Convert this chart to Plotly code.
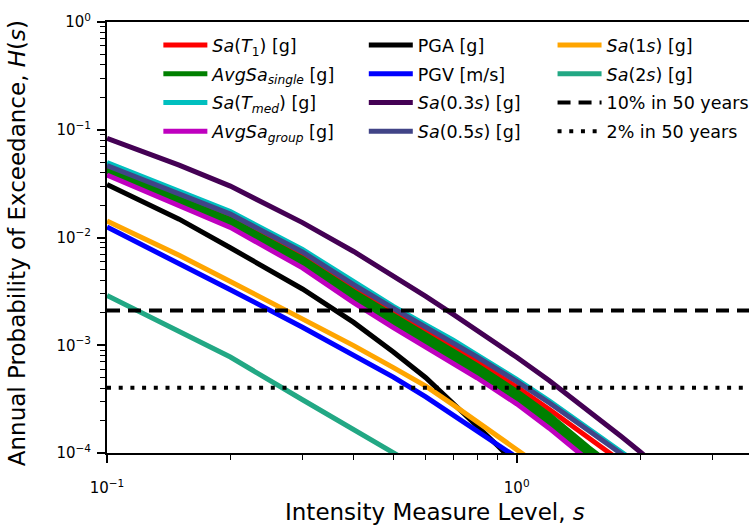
import plotly.graph_objects as go

# Intensity measure levels (s) at which the hazard curves are evaluated
im_levels = [0.1, 0.15, 0.2, 0.3, 0.4, 0.5, 0.6, 0.7, 0.8, 1.0, 1.2, 1.5, 1.8, 2.0]
im_pga = [0.1, 0.15, 0.2, 0.3, 0.4, 0.5, 0.6, 0.7, 0.8, 0.9, 1.0]
im_long = [0.1, 0.15, 0.2, 0.3, 0.4, 0.5, 0.6, 0.7, 0.8, 0.9, 1.0, 1.1]
im_sa2 = [0.1, 0.15, 0.2, 0.3, 0.4, 0.5, 0.55]
im_sa03 = [0.1, 0.15, 0.2, 0.3, 0.4, 0.5, 0.6, 0.7, 0.8, 1.0, 1.2, 1.5, 1.8, 2.0, 2.2]

# Annual probability of exceedance H(s)
h_sa_t1 = [0.0436, 0.0239, 0.0153, 0.00674, 0.00335, 0.00202, 0.001358, 0.00097,
           0.000702, 0.000411, 0.000255, 0.000137, 8.32e-05, 6.23e-05]
# AvgSa (single-building periods): band of curves
h_avgsa_single_a = [0.0427, 0.0229, 0.0147, 0.00639, 0.00314, 0.00189, 0.001261, 0.000899,
                    0.000651, 0.000373, 0.000227, 0.000112, 6.58e-05, 4.83e-05]
h_avgsa_single_b = [0.0418, 0.0222, 0.0141, 0.0061, 0.00294, 0.00175, 0.001164, 0.000826,
                    0.000599, 0.000344, 0.000207, 0.0001028, 5.94e-05, 4.37e-05]
h_avgsa_single_c = [0.0409, 0.0215, 0.0135, 0.0058, 0.00276, 0.00162, 0.001067, 0.000758,
                    0.000552, 0.000316, 0.000188, 9.34e-05, 5.36e-05, 3.96e-05]
h_sa_tmed = [0.0496, 0.0272, 0.0174, 0.00774, 0.00385, 0.00229, 0.001542, 0.001114,
             0.000815, 0.000483, 0.000305, 0.000168, 0.0001025, 7.7e-05]
h_avgsa_group = [0.038, 0.0199, 0.0124, 0.00522, 0.00249, 0.00146, 0.000966, 0.000686,
                 0.000499, 0.000286, 0.00017, 8.48e-05, 4.86e-05, 3.57e-05]
h_pga = [0.031, 0.0148, 0.00803, 0.00333, 0.00163, 0.000867, 0.0005, 0.000293,
         0.000178, 0.000116, 7.82e-05]
h_pgv = [0.0125, 0.0058, 0.00328, 0.00147, 0.000818, 0.000506, 0.000332, 0.000225,
         0.00016, 0.000119, 9.12e-05, 7.15e-05]
h_sa03 = [0.0831, 0.047, 0.03, 0.01374, 0.00742, 0.004444, 0.002846, 0.001934, 0.00138,
          0.000773, 0.00047, 0.000247, 0.000142, 0.0001026, 7.58e-05]
h_sa05 = [0.0465, 0.0255, 0.0165, 0.00734, 0.00365, 0.0022, 0.001484, 0.001066,
          0.00078, 0.000462, 0.000293, 0.000161, 9.87e-05, 7.39e-05]
h_sa1 = [0.0142, 0.00684, 0.00391, 0.00177, 0.000992, 0.00062, 0.000418, 0.00028,
         0.000195, 0.000143, 0.000108, 8.32e-05]
h_sa2 = [0.0029, 0.00134, 0.000777, 0.000312, 0.000164, 9.96e-05, 8.13e-05]

# Design levels: 10% and 2% probability of exceedance in 50 years
h_10in50 = 0.002107
h_2in50 = 0.000404
x_span = [0.1, 4.0]

FONT = "DejaVu Sans"
LW = 5

fig = go.Figure()


def curve(x, y, name, color, legend, show=True, group=None):
    fig.add_trace(go.Scatter(
        x=x, y=y, mode="lines", name=name, legend=legend,
        legendgroup=group or name, showlegend=show,
        line=dict(color=color, width=LW),
    ))


single = "<i>AvgSa<sub>single</sub></i> [g]"
curve(im_levels, h_sa_t1, "<i>Sa</i>(<i>T</i><sub>1</sub>) [g]", "#ff0000", "legend")
curve(im_levels, h_avgsa_single_a, single, "#008000", "legend", group="single")
curve(im_levels, h_avgsa_single_b, single, "#008000", "legend", show=False, group="single")
curve(im_levels, h_avgsa_single_c, single, "#008000", "legend", show=False, group="single")
curve(im_levels, h_sa_tmed, "<i>Sa</i>(<i>T<sub>med</sub></i>) [g]", "#00bfbf", "legend")
curve(im_levels, h_avgsa_group, "<i>AvgSa<sub>group</sub></i> [g]", "#bf00bf", "legend")
curve(im_pga, h_pga, "PGA [g]", "#000000", "legend2")
curve(im_long, h_pgv, "PGV [m/s]", "#0000ff", "legend2")
curve(im_sa03, h_sa03, "<i>Sa</i>(0.3<i>s</i>) [g]", "#440154", "legend2")
curve(im_levels, h_sa05, "<i>Sa</i>(0.5<i>s</i>) [g]", "#414487", "legend2")
curve(im_long, h_sa1, "<i>Sa</i>(1<i>s</i>) [g]", "#ffa500", "legend3")
curve(im_sa2, h_sa2, "<i>Sa</i>(2<i>s</i>) [g]", "#22a884", "legend3")

fig.add_trace(go.Scatter(
    x=x_span, y=[h_10in50, h_10in50], mode="lines", name="10% in 50 years",
    legend="legend3", legendgroup="p10",
    line=dict(color="black", width=4, dash="13px,8px"),
))
fig.add_trace(go.Scatter(
    x=x_span, y=[h_2in50, h_2in50], mode="lines", name="2% in 50 years",
    legend="legend3", legendgroup="p2",
    line=dict(color="black", width=4, dash="4px,7.7px"),
))

y_major = [1e-4, 1e-3, 1e-2, 1e-1, 1]
y_text = ["10<sup>\u22124</sup>", "10<sup>\u22123</sup>", "10<sup>\u22122</sup>",
          "10<sup>\u22121</sup>", "10<sup>0</sup>"]
y_minor = [m * 10 ** e for e in range(-4, 0) for m in range(2, 10)]
x_major = [0.1, 1]
x_text = ["10<sup>\u22121</sup>", "10<sup>0</sup>"]
x_minor = [m * 10 ** e for e in (-1, 0) for m in range(2, 10)]

legend_common = dict(
    bgcolor="rgba(0,0,0,0)", borderwidth=0, yanchor="top", xanchor="left",
    traceorder="grouped", tracegroupgap=3, itemwidth=44,
    font=dict(family=FONT, size=17.5, color="black"),
)

axis_common = dict(
    type="log", showgrid=False, zeroline=False,
    showline=True, linecolor="black", linewidth=2,
    ticks="outside", ticklen=8, tickwidth=1.7, tickcolor="black",
    tickfont=dict(family=FONT, size=15, color="black"),
)

fig.update_layout(
    width=749, height=526,
    margin=dict(l=107, r=0, t=22, b=73, autoexpand=False),
    paper_bgcolor="white", plot_bgcolor="white",
    font=dict(family=FONT, color="black"),
    legend=dict(x=0.08, y=0.988, **legend_common),
    legend2=dict(x=0.400, y=0.988, **legend_common),
    legend3=dict(x=0.694, y=0.988, **legend_common),
    xaxis=dict(
        range=[-1, 0.567], mirror=True, ticklabelstandoff=12,
        tickvals=x_major, ticktext=x_text,
        minor=dict(tickvals=x_minor, ticks="outside", ticklen=5, tickwidth=1.2,
                   tickcolor="black", showgrid=False),
        **axis_common,
    ),
    yaxis=dict(
        range=[-4, 0], ticklabelstandoff=3,
        tickvals=y_major, ticktext=y_text,
        minor=dict(tickvals=y_minor, ticks="outside", ticklen=5, tickwidth=1.2,
                   tickcolor="black", showgrid=False),
        **axis_common,
    ),
    annotations=[
        dict(text="Intensity Measure Level, <i>s</i>", xref="paper", yref="paper",
             x=0.511, y=-0.138, xanchor="center", yanchor="middle", showarrow=False,
             font=dict(family=FONT, size=23, color="black")),
        dict(text="Annual Probability of Exceedance, <i>H</i>(<i>s</i>)",
             xref="paper", yref="paper", x=-0.14, y=0.487, textangle=-90,
             xanchor="center", yanchor="middle", showarrow=False,
             font=dict(family=FONT, size=23, color="black")),
    ],
)

fig.write_html("out.html")
